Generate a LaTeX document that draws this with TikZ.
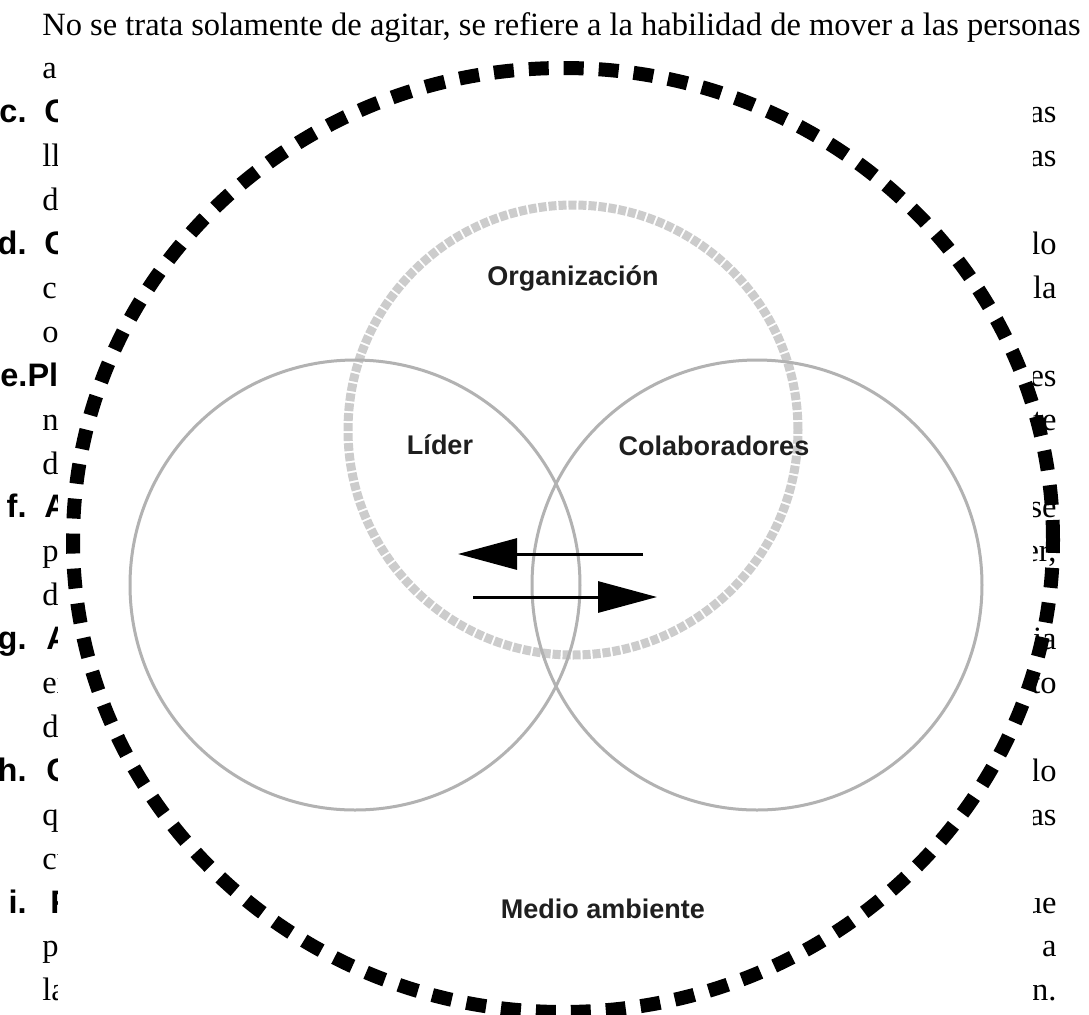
\documentclass[tikz,border=0pt]{standalone}
\usepackage{fontspec}
\setmainfont{Liberation Serif}
\setsansfont{Liberation Sans}
\usetikzlibrary{arrows.meta,shapes.geometric}

\begin{document}
\begin{tikzpicture}[x=0.5pt,y=-0.5pt,>={Triangle[length=29.5pt,width=15.5pt]},node distance=201pt,
	body text/.style={font=\fontsize{16.25}{20}\selectfont,inner sep=0pt,anchor=base west},
	end text/.style={body text,anchor=base east},
	item label/.style={font=\sffamily\bfseries\fontsize{16.25}{20}\selectfont,inner sep=0pt,anchor=base east},
	item text/.style={item label,anchor=base west},
	ring node/.style={circle,draw=black!30,line width=1.5pt,minimum size=225pt,inner sep=0pt},
	label node/.style={font=\sffamily\bfseries\fontsize{13.5}{16}\selectfont,text=black!88,inner sep=0pt,anchor=base}]
	\useasboundingbox (0,0) rectangle (1089,1014);
	\clip (0,0) rectangle (1089,1014);
	\fill[white] (0,0) rectangle (1089,1014);

	% text of the page behind the figure
	\node[body text] (l1) at (42,35) {No se trata solamente de agitar, se refiere a la habilidad de mover a las personas};
	\node[body text] (l2) at (42,78.9) {as};
	\node[body text] (l4) at (42,166.7) {ll};
	\node[body text] (l5) at (42,210.6) {d};
	\node[body text] (l7) at (42,298.4) {co};
	\node[body text] (l8) at (42,342.3) {or};
	\node[body text] (l10) at (42,430.1) {n};
	\node[body text] (l11) at (42,474) {d};
	\node[body text] (l13) at (42,561.8) {pr};
	\node[body text] (l14) at (42,605.7) {d};
	\node[body text] (l16) at (42,693.5) {ex};
	\node[body text] (l17) at (42,737.4) {d};
	\node[body text] (l19) at (42,825.2) {q};
	\node[body text] (l20) at (42,869.1) {cu};
	\node[body text] (l22) at (42,956.9) {pr};
	\node[body text] (l23) at (42,1000.8) {la};

	\node[item label] (c) at (27,122.8) {c.};
	\node[item text] (c1) at (44,122.8) {C};
	\node[item label] (d) at (27,254.5) {d.};
	\node[item text] (d1) at (44,254.5) {C};
	\node[item text] (e) at (0,386.2) {e.Pl};
	\node[item label] (f) at (27,517.9) {f.};
	\node[item text] (f1) at (44,517.9) {A};
	\node[item label] (g) at (27,649.6) {g.};
	\node[item text] (g1) at (46,649.6) {A};
	\node[item label] (h) at (27,781.3) {h.};
	\node[item text] (h1) at (46,781.3) {C};
	\node[item label] (i) at (27,913) {i.};
	\node[item text] (i1) at (50,913) {F};

	\node[end text] (r3) at (1057,122.8) {as};
	\node[end text] (r4) at (1057,166.7) {as};
	\node[end text] (r6) at (1057,254.5) {lo};
	\node[end text] (r7) at (1057,298.4) {la};
	\node[end text] (r9) at (1057,386.2) {es};
	\node[end text] (r10) at (1057,430.1) {te};
	\node[end text] (r12) at (1057,517.9) {se};
	\node[end text] (r13) at (1057,561.8) {er,};
	\node[end text] (r15) at (1057,649.6) {ia};
	\node[end text] (r16) at (1057,693.5) {to};
	\node[end text] (r18) at (1057,781.3) {lo};
	\node[end text] (r19) at (1057,825.2) {as};
	\node[end text] (r21) at (1057,913) {ue};
	\node[end text] (r22) at (1057,956.9) {a};
	\node[end text] (r23) at (1057,1000.8) {n.};

	% the figure
	\fill[white] (58,57) rectangle (1033,1020);
	\node[ellipse,draw,line width=7pt,dash pattern=on 10pt off 7.5pt,minimum width=490pt,minimum height=472pt,inner sep=0pt] (medio) at (563,540) {};
	\node[ring node,draw=black!20,line width=4.5pt,dash pattern=on 4pt off 1pt] (org) at (573,430) {};
	\node[ring node] (lider) at (355,585) {};
	\node[ring node] (colab) [right of=lider] {};

	\node[label node] (orgl) at (573,285) {Organización};
	\node[label node] (lidl) at (440,454) {Líder};
	\node[label node] (coll) at (714,455) {Colaboradores};
	\node[label node] (medl) at (603,918) {Medio ambiente};

	\coordinate (a1) at (643,554);
	\coordinate (a2) at (458,554);
	\coordinate (b1) at (473,597);
	\coordinate (b2) at (657,597);
	\draw[->,line width=1.5pt] (a1) -- (a2);
	\draw[->,line width=1.5pt] (b1) -- (b2);
\end{tikzpicture}
\end{document}
